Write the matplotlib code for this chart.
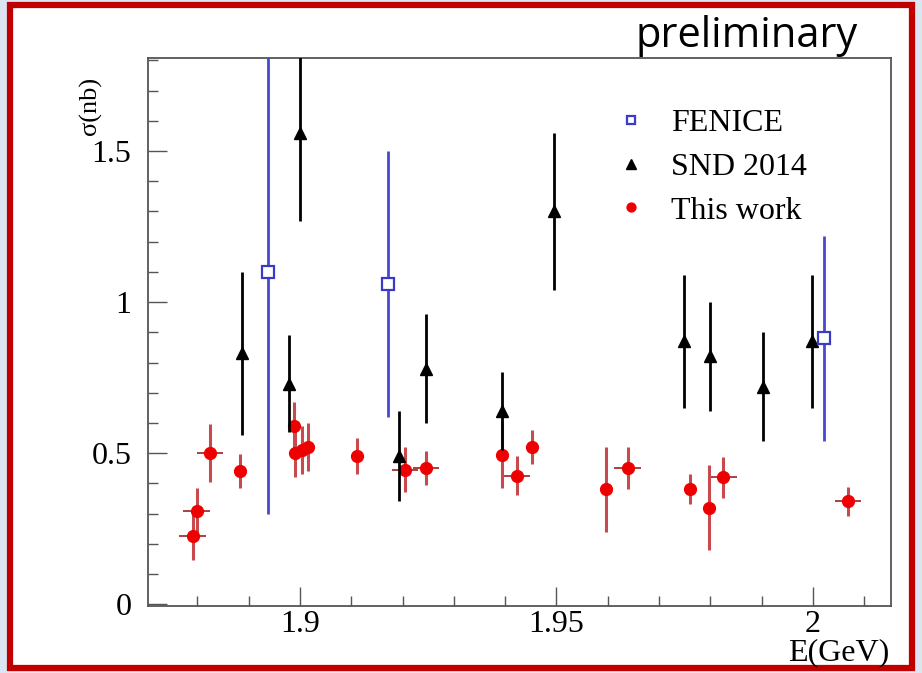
import numpy as np
import matplotlib
matplotlib.use("Agg")
import matplotlib.pyplot as plt
from matplotlib.patches import Rectangle
from matplotlib.ticker import MultipleLocator, FuncFormatter

# FENICE
fen_e = [1.8938, 1.9172, 2.0021]
fen_s = [1.10, 1.06, 0.88]
fen_err = [0.80, 0.44, 0.34]

# SND 2014
snd_e = [1.8887, 1.8979, 1.9000, 1.9193, 1.9246, 1.9394, 1.9495, 1.9749, 1.9799, 1.9903, 1.9998]
snd_s = [0.83, 0.73, 1.56, 0.49, 0.78, 0.64, 1.30, 0.87, 0.82, 0.72, 0.87]
snd_err = [0.27, 0.16, 0.29, 0.15, 0.18, 0.13, 0.26, 0.22, 0.18, 0.18, 0.22]

# this work
tw_e = [1.8791, 1.8799, 1.8825, 1.8883, 1.8988, 1.8990, 1.9005, 1.9015,
        1.9111, 1.9205, 1.9246, 1.9394, 1.9423, 1.9452, 1.9597, 1.9639,
        1.9760, 1.9797, 1.9825, 2.0068]
tw_s = [0.225, 0.31, 0.50, 0.44, 0.59, 0.50, 0.51, 0.52,
        0.49, 0.445, 0.45, 0.495, 0.425, 0.52, 0.38, 0.45,
        0.38, 0.32, 0.42, 0.34]
tw_err = [0.08, 0.075, 0.095, 0.057, 0.08, 0.08, 0.08, 0.08,
          0.06, 0.075, 0.056, 0.11, 0.065, 0.055, 0.14, 0.07,
          0.05, 0.14, 0.068, 0.048]
tw_xerr = [0.0026, 0.0026, 0.0026, 0.0, 0.0, 0.0, 0.0, 0.0,
           0.0, 0.0026, 0.0026, 0.0, 0.0026, 0.0, 0.0, 0.0026,
           0.0, 0.0, 0.0026, 0.0026]

serif = "Liberation Serif"

fig = plt.figure(figsize=(9.22, 6.73), dpi=100)
fig.patch.set_facecolor("#dce6f2")
# white panel with red frame
fig.patches.append(Rectangle((0.011, 0.008), 0.978, 0.984, transform=fig.transFigure,
                             facecolor="white", edgecolor="#c00000", linewidth=4.5,
                             zorder=-10))

ax = fig.add_axes([148 / 922, 1 - 606 / 673, (891 - 148) / 922, (606 - 58) / 673])
ax.set_facecolor("white")
ax.set_xlim(1.8704, 2.0152)
ax.set_ylim(-0.006, 1.808)

# x errors: thin dark-red dashes
ax.errorbar(tw_e, tw_s, xerr=tw_xerr, fmt="none", ecolor="#a83030",
            elinewidth=1.3, capsize=0, zorder=2)
ax.errorbar(tw_e, tw_s, yerr=tw_err, fmt="o", color="#ee0000",
            ecolor="#c84a4e", elinewidth=2.2, capsize=0, markersize=8.5, zorder=3,
            label="This work")
ax.errorbar(snd_e, snd_s, yerr=snd_err, fmt="^", color="black", ecolor="black",
            elinewidth=2, capsize=0, markersize=9, zorder=4, label="SND 2014")
ax.errorbar(fen_e, fen_s, yerr=fen_err, fmt="s", color="#3a3ac8", ecolor="#4848d0",
            mfc="white", mec="#3a3ac8", mew=1.6, elinewidth=2, capsize=0,
            markersize=8, zorder=5, label="FENICE")

for s in ax.spines.values():
    s.set_color("#555555")
    s.set_linewidth(1.3)

ax.xaxis.set_major_locator(MultipleLocator(0.05))
ax.xaxis.set_minor_locator(MultipleLocator(0.01))
ax.yaxis.set_major_locator(MultipleLocator(0.5))
ax.yaxis.set_minor_locator(MultipleLocator(0.1))
ax.tick_params(which="both", direction="in", colors="#555555", labelcolor="black",
               labelsize=23, width=1)
ax.tick_params(which="major", length=14)
ax.tick_params(which="minor", length=7)
ax.tick_params(axis="x", pad=3)
ax.tick_params(axis="y", pad=12)
ax.xaxis.set_major_formatter(FuncFormatter(lambda v, p: f"{v:g}"))
ax.yaxis.set_major_formatter(FuncFormatter(lambda v, p: f"{v:g}"))
for lab in ax.get_xticklabels() + ax.get_yticklabels():
    lab.set_fontfamily(serif)

fig.text(90 / 922, 1 - 106 / 673, "σ(nb)", rotation=90, ha="center", va="center",
         fontsize=19, family=serif)
fig.text(889 / 922, 1 - 653 / 673, "E(GeV)", ha="right", va="center",
         fontsize=23, family=serif)
fig.text(858 / 922, 1 - 36 / 673, "preliminary", ha="right", va="center",
         fontsize=30, family="Open Sans")

handles, labels = ax.get_legend_handles_labels()
order = [2, 1, 0]
leg = ax.legend([handles[i][0] for i in order], [labels[i] for i in order],
                loc="upper left", bbox_to_anchor=(0.59, 0.96), frameon=False,
                prop={"family": serif, "size": 23}, handlelength=1.0,
                handletextpad=0.75, labelspacing=0.45, markerscale=0.75)

fig.savefig("out.png", dpi=100, facecolor=fig.get_facecolor())
